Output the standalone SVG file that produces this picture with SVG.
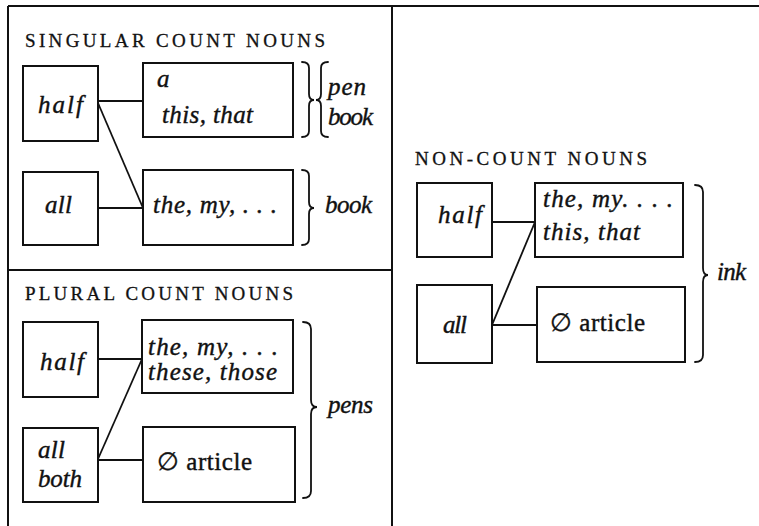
<svg xmlns="http://www.w3.org/2000/svg" width="759" height="526" viewBox="0 0 759 526">
<style>
  .frame { stroke: #111; stroke-width: 2; fill: none; }
  .box { stroke: #111; stroke-width: 2; fill: none; }
  .conn { stroke: #111; stroke-width: 1.8; fill: none; }
  .brace { stroke: #111; stroke-width: 1.8; fill: none; stroke-linecap: round; }
  text { font-family: 'Liberation Serif', 'Times New Roman', 'DejaVu Serif', serif; fill: #111; stroke: #111; stroke-width: 0.4; }
  .it { font-style: italic; font-size: 25px; }
  .rm { font-size: 25px; }
  .cap { font-size: 19px; stroke-width: 0.3; }
</style>
<rect width="759" height="526" fill="#fff"/>

<g id="frame">
  <line class="frame" x1="8" y1="6" x2="759" y2="6"/>
  <line class="frame" x1="8" y1="6" x2="8" y2="526"/>
  <line class="frame" x1="392" y1="6" x2="392" y2="526"/>
  <line class="frame" x1="8" y1="270" x2="392" y2="270"/>
</g>

<g id="titles">
  <text class="cap" x="25" y="47" textLength="300" lengthAdjust="spacing">SINGULAR COUNT NOUNS</text>
  <text class="cap" x="25" y="300" textLength="268" lengthAdjust="spacing">PLURAL COUNT NOUNS</text>
  <text class="cap" x="415" y="165" textLength="232" lengthAdjust="spacing">NON-COUNT NOUNS</text>
</g>

<g id="connectors">
  <line class="conn" x1="98" y1="101" x2="143" y2="101"/>
  <line class="conn" x1="98" y1="103" x2="143" y2="208"/>
  <line class="conn" x1="98" y1="208" x2="143" y2="208"/>
  <line class="conn" x1="98" y1="359" x2="142" y2="359"/>
  <line class="conn" x1="98" y1="459" x2="142" y2="359"/>
  <line class="conn" x1="98" y1="460" x2="143" y2="460"/>
  <line class="conn" x1="492" y1="222" x2="535" y2="222"/>
  <line class="conn" x1="492" y1="325" x2="535" y2="222"/>
  <line class="conn" x1="492" y1="325" x2="537" y2="325"/>
</g>

<!-- Singular count nouns -->
<g id="sg-half">
  <rect class="box" x="23" y="66" width="75" height="75"/>
  <text class="it" x="38" y="113" textLength="45">half</text>
</g>
<g id="sg-all">
  <rect class="box" x="23" y="172" width="75" height="73"/>
  <text class="it" x="45" y="213" textLength="27">all</text>
</g>
<g id="sg-a-this">
  <rect class="box" x="143" y="63" width="150" height="74"/>
  <text class="it" x="157" y="87">a</text>
  <text class="it" x="162" y="123" textLength="91" lengthAdjust="spacing">this, that</text>
</g>
<g id="sg-the-my">
  <rect class="box" x="143" y="170" width="150" height="75"/>
  <text class="it" x="153" y="213" textLength="124" lengthAdjust="spacing">the, my, . . .</text>
</g>
<g id="sg-pen-book">
  <path class="brace" d="M302,62 Q309,62 309,68 L309,94 Q309,100 314,100 Q309,100 309,106 L309,131 Q309,137 302,137"/>
  <path class="brace" d="M328,62 Q321,62 321,68 L321,94 Q321,100 316,100 Q321,100 321,106 L321,131 Q321,137 328,137"/>
  <text class="it" x="328" y="95" textLength="38">pen</text>
  <text class="it" x="328" y="125" textLength="45">book</text>
</g>
<g id="sg-book">
  <path class="brace" d="M302,170 Q309,170 309,176 L309,202 Q309,208 314,208 Q309,208 309,214 L309,239 Q309,245 302,245"/>
  <text class="it" x="325" y="213" textLength="47">book</text>
</g>

<!-- Plural count nouns -->
<g id="pl-half">
  <rect class="box" x="23" y="322" width="75" height="75"/>
  <text class="it" x="40" y="370" textLength="44">half</text>
</g>
<g id="pl-all-both">
  <rect class="box" x="23" y="428" width="75" height="74"/>
  <text class="it" x="38" y="458" textLength="27">all</text>
  <text class="it" x="38" y="487" textLength="44">both</text>
</g>
<g id="pl-the-these">
  <rect class="box" x="142" y="320" width="151" height="73"/>
  <text class="it" x="148" y="355" textLength="130" lengthAdjust="spacing">the, my, . . .</text>
  <text class="it" x="148" y="380" textLength="129" lengthAdjust="spacing">these, those</text>
</g>
<g id="pl-article">
  <rect class="box" x="143" y="427" width="152" height="75"/>
  <text class="rm" x="157" y="470" textLength="95" lengthAdjust="spacing">∅ article</text>
</g>
<g id="pl-pens">
  <path class="brace" d="M303,322 Q311,322 311,329 L311,400 Q311,407 317,407 Q311,407 311,414 L311,491 Q311,498 303,498"/>
  <text class="it" x="328" y="413" textLength="45">pens</text>
</g>

<!-- Non-count nouns -->
<g id="nc-half">
  <rect class="box" x="417" y="183" width="75" height="74"/>
  <text class="it" x="438" y="223" textLength="44">half</text>
</g>
<g id="nc-all">
  <rect class="box" x="417" y="285" width="75" height="78"/>
  <text class="it" x="443" y="333" textLength="24">all</text>
</g>
<g id="nc-the-this">
  <rect class="box" x="535" y="183" width="148" height="74"/>
  <text class="it" x="543" y="207" textLength="130" lengthAdjust="spacing">the, my. . . .</text>
  <text class="it" x="543" y="240" textLength="97" lengthAdjust="spacing">this, that</text>
</g>
<g id="nc-article">
  <rect class="box" x="537" y="287" width="148" height="75"/>
  <text class="rm" x="550" y="331" textLength="95" lengthAdjust="spacing">∅ article</text>
</g>
<g id="nc-ink">
  <path class="brace" d="M695,185 Q703,185 703,192 L703,268 Q703,275 708,275 Q703,275 703,282 L703,355 Q703,362 695,362"/>
  <text class="it" x="717" y="280" textLength="29">ink</text>
</g>
</svg>
